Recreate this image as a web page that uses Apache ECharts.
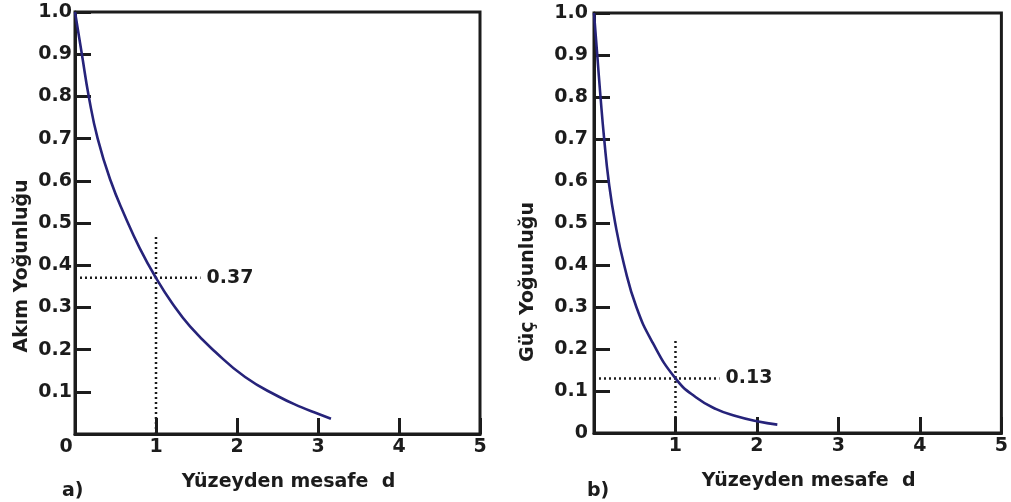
<!DOCTYPE html>
<html>
<head>
<meta charset="utf-8">
<script src="https://cdn.jsdelivr.net/npm/echarts@6/dist/echarts.min.js"></script>
<style>
  html, body { margin: 0; padding: 0; background: #fff; }
  #chart { width: 1011px; height: 502px; }
</style>
</head>
<body>
<div id="chart"></div>
<script>
// Panel a) current density vs. depth
const curveA = [
  [0, 1.0], [0.085, 0.9], [0.17, 0.8], [0.28, 0.7], [0.44, 0.6], [0.62, 0.515],
  [0.8, 0.44], [1.0, 0.37], [1.2, 0.31], [1.42, 0.255], [1.73, 0.195],
  [2.1, 0.135], [2.5, 0.09], [2.8, 0.063], [3.0, 0.048], [3.16, 0.036]
];
// Panel b) power density vs. depth
const curveB = [
  [0, 1.0], [0.04, 0.9], [0.08, 0.8], [0.125, 0.7], [0.18, 0.6], [0.26, 0.5],
  [0.37, 0.4], [0.52, 0.3], [0.72, 0.215], [1.0, 0.13], [1.25, 0.085],
  [1.5, 0.057], [1.75, 0.04], [2.0, 0.028], [2.25, 0.02]
];
// Reference guides at d = 1
const guideAH = [[0, 0.37], [1.55, 0.37]];
const guideAV = [[1, 0], [1, 0.47]];
const guideBH = [[0, 0.13], [1.54, 0.13]];
const guideBV = [[1, 0], [1, 0.22]];

const xTickLabelsA = ['0', '1', '2', '3', '4', '5'];
const xTickLabelsB = ['', '1', '2', '3', '4', '5'];
const yTickLabelsA = ['', '0.1', '0.2', '0.3', '0.4', '0.5', '0.6', '0.7', '0.8', '0.9', '1.0'];
const yTickLabelsB = ['0', '0.1', '0.2', '0.3', '0.4', '0.5', '0.6', '0.7', '0.8', '0.9', '1.0'];

const xName = 'Yüzeyden mesafe  d';
const yNameA = 'Akım Yoğunluğu';
const yNameB = 'Güç Yoğunluğu';

const INK = '#1c1c1c';
const CURVE = '#26237a';
const FONT = 'DejaVu Sans';
const FS = 19;

function xAxisFor(idx, labels) {
  return {
    type: 'value', gridIndex: idx, min: 0, max: 5, interval: 1,
    axisLine: { show: true, lineStyle: { color: INK, width: 3 } },
    axisTick: { show: true, inside: true, length: 16, lineStyle: { color: INK, width: 3 } },
    splitLine: { show: false },
    axisLabel: {
      margin: 4, color: INK, fontFamily: FONT, fontWeight: 'bold', fontSize: FS,
      formatter: v => {
        const s = labels[Math.round(v)];
        return v === 0 && s ? '{o|' + s + '}' : s;
      },
      rich: { o: { padding: [0, 18, 0, 0], color: INK, fontFamily: FONT, fontWeight: 'bold', fontSize: FS } }
    },
    name: xName, nameLocation: 'middle', nameGap: 39,
    nameTextStyle: { color: INK, fontFamily: FONT, fontWeight: 'bold', fontSize: FS, padding: [0, 0, 0, 22] }
  };
}

function yAxisFor(idx, labels, name, gap, pad, lblMargin) {
  return {
    type: 'value', gridIndex: idx, min: 0, max: 1, interval: 0.1,
    axisLine: { show: true, lineStyle: { color: INK, width: 3 } },
    axisTick: { show: true, inside: true, length: 16, lineStyle: { color: INK, width: 3 } },
    splitLine: { show: false },
    axisLabel: {
      margin: lblMargin, color: INK, fontFamily: FONT, fontWeight: 'bold', fontSize: FS,
      formatter: v => labels[Math.round(v * 10)]
    },
    name: name, nameLocation: 'middle', nameGap: gap,
    nameTextStyle: { color: INK, fontFamily: FONT, fontWeight: 'bold', fontSize: FS, padding: pad }
  };
}

function guide(idx, data, withLabel) {
  const s = {
    type: 'line', xAxisIndex: idx, yAxisIndex: idx, data: data,
    symbol: 'none', silent: true, animation: false,
    lineStyle: { color: INK, width: 2.5, type: [2, 3] }
  };
  if (withLabel) {
    s.endLabel = {
      show: true, distance: 6, color: INK, fontFamily: FONT, fontWeight: 'bold', fontSize: FS,
      formatter: p => p.value[1].toFixed(2)
    };
  }
  return s;
}

function curve(idx, data) {
  return {
    type: 'line', xAxisIndex: idx, yAxisIndex: idx, data: data,
    symbol: 'none', smooth: 0.5, animation: false, z: 5,
    lineStyle: { color: CURVE, width: 2.6 }
  };
}

const chart = echarts.init(document.getElementById('chart'), null, { renderer: 'canvas' });
chart.setOption({
  backgroundColor: '#ffffff',
  animation: false,
  grid: [
    { left: 75, right: 531, top: 12, bottom: 68, show: true, borderColor: INK, borderWidth: 3, backgroundColor: 'transparent' },
    { left: 594, right: 8, top: 13, bottom: 69, show: true, borderColor: INK, borderWidth: 3, backgroundColor: 'transparent' }
  ],
  xAxis: [xAxisFor(0, xTickLabelsA), xAxisFor(1, xTickLabelsB)],
  yAxis: [
    yAxisFor(0, yTickLabelsA, yNameA, 43, [0, 86, 0, 0], 3),
    yAxisFor(1, yTickLabelsB, yNameB, 56, [0, 118, 0, 0], 6)
  ],
  series: [
    guide(0, guideAH, true), guide(0, guideAV, false), curve(0, curveA),
    guide(1, guideBH, true), guide(1, guideBV, false), curve(1, curveB)
  ],
  graphic: [
    { type: 'text', left: 62, top: 482, style: { text: 'a)', fill: INK, font: 'bold ' + FS + 'px "' + FONT + '"' } },
    { type: 'text', left: 587, top: 482, style: { text: 'b)', fill: INK, font: 'bold ' + FS + 'px "' + FONT + '"' } }
  ]
});
</script>
</body>
</html>
